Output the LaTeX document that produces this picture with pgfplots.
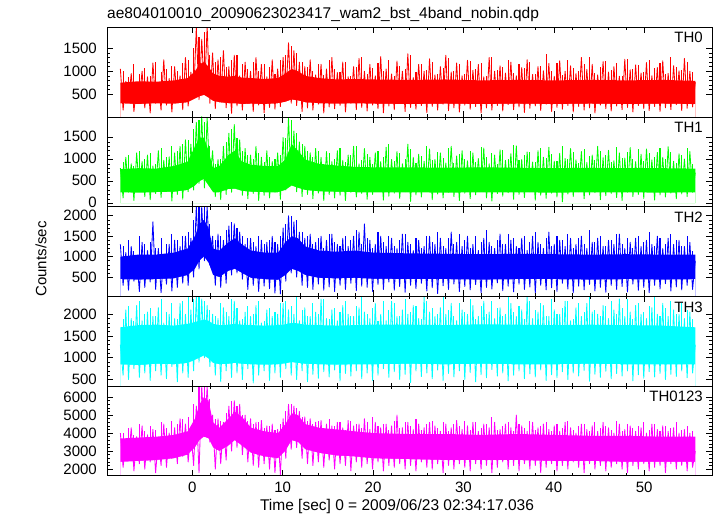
\documentclass[border=0pt]{standalone}
\usepackage{fontspec}
\setmainfont{Liberation Sans}
\usepackage{pgfplots}
\pgfplotsset{compat=1.18}
\usepackage{pgfplotstable}

% dense core of each light curve (t, low and high edge of the solid band)
\pgfplotstableread{
t lo0 hi0 lo1 hi1 lo2 hi2 lo3 hi3 lo4 hi4
-7.95 300 750 250 780 450 1000 850 1700 2400 3700
-6 280 780 240 800 440 1050 830 1750 2450 3750
-4 300 770 250 790 450 1050 860 1760 2500 3800
-2 290 800 260 850 470 1100 850 1740 2600 3900
-0.5 320 850 300 950 550 1200 880 1780 2800 4100
0.3 400 1000 400 1300 700 1500 950 1820 3200 4800
0.8 450 1150 500 1500 900 1800 1000 1850 3600 5600
1.3 480 1200 550 1500 1000 1900 1050 1880 3800 6000
1.8 420 1100 400 1200 850 1700 980 1850 3700 5800
2.3 350 950 250 800 550 1200 880 1780 3200 4600
3 320 900 250 850 500 1150 850 1750 3000 4300
4 300 880 320 1100 650 1350 860 1760 3300 4800
4.7 300 900 330 1200 700 1450 880 1780 3600 5200
5.5 280 860 280 950 600 1300 860 1760 3300 4900
6.5 290 850 260 880 480 1150 850 1750 2900 4300
8 280 830 250 850 450 1100 840 1740 2700 4100
9.5 300 850 250 850 430 1100 850 1750 2600 4000
10.3 330 950 300 1000 550 1350 870 1770 3000 4500
11 380 1050 400 1350 700 1500 900 1800 3600 5100
11.7 360 1000 350 1200 650 1450 880 1790 3500 5000
12.5 320 900 300 1000 550 1250 860 1760 3100 4500
14 300 850 270 900 480 1150 850 1750 2900 4300
16 290 820 260 860 470 1120 840 1740 2750 4200
18 300 830 250 830 480 1150 850 1750 2700 4100
20 290 820 250 820 460 1100 850 1760 2600 4000
24 280 810 250 820 450 1080 860 1760 2550 3950
28 290 820 240 810 450 1070 850 1750 2500 3950
32 280 800 250 820 440 1060 860 1770 2500 3900
36 290 810 250 810 450 1070 850 1760 2500 3950
40 280 800 240 800 450 1060 850 1750 2450 3900
44 290 810 250 810 440 1050 860 1760 2450 3850
48 280 800 250 800 450 1060 850 1750 2400 3850
52 290 810 240 800 440 1050 850 1740 2400 3800
55.65 280 790 250 790 450 1050 850 1700 2400 3800
}\bands

% TH0 (red), samples every 0.3 s from t=-7.95 s
\pgfplotstableread[row sep=\\, header=false]{
1050\\150\\780\\320\\950\\120\\700\\380\\1000\\200\\
880\\90\\1180\\300\\760\\150\\1250\\260\\840\\110\\
1100\\330\\900\\160\\1300\\240\\980\\420\\1950\\380\\
1700\\520\\1980\\300\\1400\\180\\1250\\350\\1450\\200\\
1100\\80\\1350\\240\\900\\150\\1200\\300\\1000\\120\\
1300\\260\\1150\\90\\880\\210\\1250\\170\\1050\\230\\
1300\\380\\1620\\300\\1450\\250\\1200\\120\\1100\\200\\
1250\\150\\920\\280\\1150\\90\\1050\\220\\1300\\180\\
970\\250\\1200\\110\\880\\300\\1100\\160\\1280\\210\\
1000\\130\\1150\\260\\900\\180\\1320\\90\\1050\\240\\
940\\160\\1220\\300\\1000\\120\\1380\\210\\860\\170\\
1150\\250\\1000\\100\\1270\\230\\920\\150\\1100\\280\\
1350\\140\\980\\200\\1180\\110\\900\\260\\1240\\170\\
1020\\230\\1150\\90\\880\\200\\1300\\150\\1000\\250\\
1120\\130\\960\\270\\1200\\160\\900\\220\\1080\\100\\
1250\\190\\930\\240\\1100\\140\\1010\\280\\1170\\120\\
890\\210\\1230\\170\\1000\\250\\1120\\110\\950\\230\\
1300\\150\\1040\\200\\1150\\90\\920\\260\\1210\\180\\
980\\130\\1100\\240\\890\\160\\1260\\210\\1030\\110\\
1140\\250\\960\\180\\1190\\140\\900\\230\\1080\\120\\
1230\\200\\950\\160\\1120\\270\\1010\\140\\1280\\190\\
1000\\220\\760\\
}\thzero
% TH0 extra peaks, every 0.6 s from t=-7.65 s
\pgfplotstableread[row sep=\\, header=false]{
1000\\870\\1150\\950\\1080\\900\\1200\\980\\1050\\1120\\
1000\\1180\\1250\\1500\\1750\\1850\\1350\\1200\\1300\\1100\\
1250\\1350\\1150\\1050\\1200\\1000\\1150\\1100\\950\\1250\\
1350\\1550\\1400\\1200\\1100\\
1000\\1150\\920\\1250\\1050\\980\\1200\\900\\1100\\1300\\
950\\1080\\1180\\1000\\1250\\900\\1120\\1050\\1350\\980\\
1150\\1020\\1200\\930\\1080\\1280\\1000\\1150\\950\\1220\\
1050\\1180\\900\\1300\\1020\\1100\\1250\\970\\1150\\1060\\
1200\\940\\1120\\1380\\1000\\1180\\920\\1250\\1080\\1000\\
1150\\1300\\960\\1100\\1220\\1020\\1180\\900\\1270\\1050\\
1130\\990\\1240\\1060\\1180\\950\\1300\\1100\\1020\\1200\\980\\
}\pkzero

% TH1 (green)
\pgfplotstableread[row sep=\\, header=false]{
800\\120\\1050\\250\\900\\60\\1150\\300\\950\\150\\
1100\\80\\850\\220\\1200\\130\\980\\270\\1060\\50\\
1150\\200\\1300\\90\\1450\\260\\1350\\300\\1850\\450\\
1980\\350\\1960\\500\\1200\\150\\1000\\80\\1300\\200\\
1600\\250\\1800\\330\\1450\\180\\1250\\100\\1100\\220\\
1300\\60\\1050\\180\\1200\\120\\950\\250\\1150\\90\\
1500\\300\\1950\\420\\1650\\260\\1400\\150\\1300\\200\\
1150\\100\\1250\\230\\1050\\60\\1180\\200\\950\\120\\
1200\\180\\980\\60\\1100\\250\\1300\\140\\900\\220\\
1250\\90\\1050\\200\\1150\\300\\950\\70\\1280\\160\\
1000\\230\\1180\\110\\900\\260\\1350\\40\\1050\\190\\
1120\\140\\960\\280\\1240\\80\\1000\\210\\1150\\120\\
920\\250\\1300\\150\\1080\\60\\1200\\230\\970\\100\\
1150\\190\\1020\\280\\1260\\120\\900\\50\\1100\\220\\
1220\\160\\980\\240\\1130\\90\\1310\\200\\1000\\130\\
1170\\260\\940\\70\\1200\\180\\1050\\110\\1280\\230\\
960\\140\\1140\\30\\1020\\210\\1250\\150\\990\\260\\
1180\\100\\930\\190\\1100\\240\\1300\\80\\1040\\170\\
1210\\220\\970\\130\\1150\\60\\1030\\250\\1270\\150\\
950\\200\\1120\\110\\1240\\280\\990\\70\\1160\\190\\
1050\\140\\1290\\230\\960\\100\\1130\\210\\1010\\150\\
1180\\250\\700\\
}\thone
\pgfplotstableread[row sep=\\, header=false]{
950\\1100\\850\\1200\\1000\\1150\\900\\1250\\1050\\1300\\
1200\\1350\\1450\\1700\\1900\\1850\\1300\\900\\1000\\1400\\
1700\\1500\\1200\\1100\\1000\\1150\\950\\1050\\1000\\1100\\
1500\\1900\\1600\\1350\\1200\\
1050\\1200\\900\\1150\\1000\\1250\\950\\1100\\1300\\980\\
1120\\900\\1200\\1050\\1350\\970\\1150\\1000\\1230\\920\\
1080\\1300\\990\\1170\\1040\\1260\\930\\1120\\1000\\1200\\
950\\1280\\1060\\1150\\900\\1220\\1010\\1330\\980\\1100\\
1180\\940\\1250\\1040\\1130\\970\\1300\\1020\\1160\\910\\
1240\\1070\\990\\1200\\1110\\950\\1290\\1030\\1170\\1000\\
1230\\960\\1140\\1060\\1270\\1000\\1180\\930\\1100\\1250\\900\\
}\pkone

% TH2 (blue)
\pgfplotstableread[row sep=\\, header=false]{
1300\\300\\1100\\180\\1250\\400\\1000\\150\\1350\\250\\
1150\\380\\1850\\200\\1200\\120\\1050\\330\\1300\\160\\
1400\\250\\1250\\350\\1500\\300\\1450\\500\\2220\\700\\
2220\\900\\2220\\800\\1500\\300\\1550\\250\\1400\\350\\
1750\\550\\1800\\600\\1600\\450\\1300\\200\\1450\\300\\
1250\\150\\1400\\280\\1350\\220\\1500\\110\\1300\\90\\
1700\\400\\2000\\600\\1850\\500\\1600\\300\\1450\\250\\
1550\\200\\1350\\330\\1500\\180\\1400\\260\\1550\\150\\
1300\\300\\1450\\200\\1250\\350\\1500\\170\\1600\\280\\
1800\\250\\1400\\150\\1300\\320\\1500\\200\\1250\\380\\
1450\\180\\1200\\270\\1550\\130\\1350\\300\\1150\\220\\
1400\\350\\1250\\160\\1500\\240\\1300\\100\\1450\\290\\
1200\\200\\1600\\330\\1350\\150\\1250\\270\\1500\\190\\
1300\\320\\1150\\120\\1450\\250\\1350\\210\\1200\\360\\
1550\\170\\1300\\280\\1400\\140\\1250\\330\\1450\\200\\
1150\\260\\1500\\110\\1350\\300\\1200\\190\\1600\\240\\
1300\\150\\1400\\350\\1250\\210\\1450\\120\\1300\\280\\
1500\\190\\1200\\320\\1350\\160\\1450\\250\\1250\\130\\
1400\\300\\1300\\200\\1550\\270\\1200\\140\\1350\\330\\
1450\\180\\1250\\250\\1400\\120\\1300\\300\\1500\\210\\
1200\\340\\1450\\160\\1300\\260\\1400\\190\\1250\\300\\
1350\\200\\900\\
}\thtwo
\pgfplotstableread[row sep=\\, header=false]{
1250\\1400\\1150\\1500\\1300\\1350\\1200\\1450\\1300\\1550\\
1400\\1500\\1600\\1900\\2220\\2220\\1800\\1400\\1500\\1650\\
1850\\1700\\1500\\1450\\1350\\1500\\1300\\1400\\1350\\1500\\
1800\\2000\\1900\\1600\\1500\\
1300\\1450\\1200\\1550\\1350\\1250\\1500\\1400\\1650\\1300\\
1450\\1200\\1600\\1350\\1500\\1250\\1400\\1550\\1300\\1450\\
1200\\1500\\1350\\1600\\1250\\1450\\1300\\1550\\1400\\1200\\
1500\\1350\\1650\\1250\\1400\\1300\\1550\\1450\\1200\\1500\\
1350\\1600\\1300\\1450\\1250\\1500\\1400\\1550\\1200\\1450\\
1300\\1650\\1350\\1500\\1250\\1400\\1550\\1300\\1450\\1200\\
1500\\1350\\1600\\1250\\1450\\1300\\1550\\1400\\1250\\1500\\1150\\
}\pktwo

% TH3 (cyan)
\pgfplotstableread[row sep=\\, header=false]{
1300\\600\\2100\\500\\1900\\750\\2200\\550\\1850\\650\\
2050\\480\\1950\\700\\2150\\600\\1800\\520\\2000\\800\\
1900\\450\\2250\\650\\2000\\550\\2100\\700\\2400\\900\\
2350\\1000\\2200\\800\\2000\\600\\1900\\450\\2150\\700\\
1950\\550\\2300\\650\\1850\\500\\2050\\750\\1950\\420\\
2200\\600\\1800\\700\\2100\\480\\1950\\650\\2000\\550\\
2250\\750\\2100\\600\\2000\\500\\1850\\700\\2150\\450\\
1950\\620\\2050\\530\\2350\\680\\1900\\560\\2100\\720\\
1850\\470\\2200\\640\\2000\\580\\1950\\700\\2150\\520\\
2050\\650\\1900\\480\\2250\\600\\2000\\750\\1850\\550\\
2300\\680\\1950\\500\\2100\\620\\2000\\430\\2200\\700\\
1900\\570\\2400\\650\\2050\\520\\1950\\720\\2150\\480\\
2000\\640\\2250\\560\\1850\\700\\2100\\500\\2000\\660\\
2200\\450\\1950\\610\\2300\\540\\2050\\730\\1900\\580\\
2150\\650\\2000\\470\\2250\\600\\1950\\700\\2100\\520\\
2400\\630\\1900\\560\\2050\\720\\2200\\480\\1950\\610\\
2100\\540\\2000\\680\\2300\\500\\1850\\650\\2150\\580\\
1950\\710\\2250\\460\\2050\\620\\2000\\550\\2200\\690\\
1900\\520\\2100\\640\\2350\\580\\1950\\700\\2050\\470\\
2200\\610\\2000\\530\\1900\\680\\2150\\560\\2000\\640\\
2250\\500\\1950\\620\\2100\\570\\2000\\700\\1900\\540\\
2050\\650\\1300\\
}\ththree
\pgfplotstableread[row sep=\\, header=false]{
1900\\2200\\1850\\2300\\2000\\2150\\1950\\2350\\2050\\2250\\
1900\\2300\\2400\\2350\\2400\\2300\\2100\\1950\\2250\\2050\\
2350\\2150\\1900\\2200\\2000\\2300\\1850\\2150\\2050\\2250\\
2300\\2200\\2400\\2100\\1950\\2250\\2000\\2350\\1900\\2150\\
2050\\2300\\1950\\2200\\2400\\2000\\2150\\1850\\2300\\2100\\
2250\\1950\\2350\\2050\\2200\\1900\\2300\\2150\\2000\\2400\\
2100\\1950\\2250\\2050\\2350\\1900\\2200\\2000\\2300\\2150\\
1950\\2400\\2050\\2200\\1900\\2300\\2100\\2250\\1950\\2350\\
2000\\2150\\2300\\1900\\2250\\2050\\2400\\2100\\1950\\2200\\
2300\\2000\\2150\\2350\\1900\\2250\\2050\\2200\\2400\\1950\\
2150\\2300\\2000\\2250\\2100\\1900\\
}\pkthree

% TH0123 (magenta)
\pgfplotstableread[row sep=\\, header=false]{
4000\\2100\\3600\\2500\\4300\\1900\\3800\\2300\\4400\\2000\\
3900\\2400\\4200\\1800\\3700\\2200\\4500\\2100\\4000\\2600\\
4300\\2300\\4800\\2700\\4500\\2400\\4200\\2200\\5500\\1800\\
6600\\3800\\6600\\3500\\5000\\2000\\4800\\2300\\4600\\2500\\
5500\\3000\\5800\\3200\\5600\\2800\\5000\\2400\\4800\\2200\\
4600\\2100\\4700\\2300\\4400\\2000\\4500\\1800\\4200\\1700\\
4800\\2600\\5600\\3100\\5500\\3200\\5200\\2600\\4900\\2300\\
4800\\2200\\4600\\2400\\4700\\2100\\4500\\2500\\4400\\2000\\
4600\\2300\\4300\\2200\\4700\\1900\\4400\\2400\\4500\\2100\\
4800\\2300\\4200\\2000\\4600\\2400\\4300\\1900\\4500\\2200\\
4400\\2100\\5000\\2300\\4300\\2000\\4600\\2200\\4200\\1900\\
4500\\2400\\4300\\2100\\4600\\2000\\4400\\2300\\4100\\1800\\
4500\\2200\\4300\\2000\\4700\\2300\\4200\\2100\\4400\\1900\\
4600\\2300\\4100\\2000\\4500\\2200\\4300\\1800\\4600\\2100\\
4200\\2400\\4500\\2000\\4300\\2200\\5000\\1900\\4400\\2300\\
4100\\2000\\4600\\2200\\4300\\1800\\4500\\2100\\4200\\2300\\
4400\\1900\\4100\\2200\\4600\\2000\\4300\\2400\\4000\\2100\\
4500\\1800\\4200\\2300\\4400\\2000\\4100\\2200\\4600\\1900\\
4300\\2100\\4000\\2300\\4500\\2000\\4200\\1800\\4400\\2200\\
4100\\2000\\4300\\2300\\4000\\1900\\4500\\2100\\4200\\2200\\
4400\\1800\\4100\\2300\\4300\\2000\\4000\\2200\\4200\\1900\\
4000\\2100\\3000\\
}\thall
\pgfplotstableread[row sep=\\, header=false]{
4000\\4300\\3900\\4500\\4100\\4400\\4200\\4600\\4300\\4700\\
4500\\4800\\4900\\5600\\6600\\6600\\5900\\4800\\4700\\5100\\
5800\\5500\\5000\\4700\\4500\\4600\\4300\\4400\\4200\\4500\\
5200\\5600\\5400\\4900\\4700\\
4500\\4700\\4300\\4800\\4400\\4600\\4200\\4700\\4500\\4300\\
4600\\4900\\4400\\4500\\4200\\4700\\4300\\4600\\4400\\4800\\
4200\\4500\\4700\\4300\\4600\\4100\\4500\\4400\\4700\\4200\\
4600\\4300\\4500\\4900\\4200\\4400\\4600\\4100\\4500\\4300\\
4700\\4200\\4400\\4600\\4100\\4500\\4300\\4700\\4200\\4400\\
4500\\4100\\4600\\4300\\4400\\4200\\4700\\4100\\4500\\4300\\
4400\\4600\\4200\\4500\\4100\\4400\\4300\\4600\\4200\\4400\\4100\\
}\pkall

\definecolor{cR}{rgb}{1,0,0}
\definecolor{cG}{rgb}{0,1,0}
\definecolor{cB}{rgb}{0,0,1}
\definecolor{cC}{rgb}{0,1,1}
\definecolor{cM}{rgb}{1,0,1}

\pgfplotsset{
  panel/.style={
    width=605pt, height=89.7pt, scale only axis,
    xmin=-9.43, xmax=57.5,
    xtick={0,10,20,30,40,50}, minor x tick num=4, minor y tick num=4,
    xticklabels={},
    tick align=inside, axis on top,
    major tick length=6pt, minor tick length=3pt,
    every tick/.style={black, line width=0.6pt},
    axis line style={line width=0.8pt},
    tick label style={font=\fontsize{15}{18}\selectfont},
    yticklabel style={inner sep=0.5pt, xshift=-9.5pt},
    /pgf/number format/assume math mode=true,
    /pgf/number format/set thousands separator={},
    scaled y ticks=false,
    anchor=north west,
  },
  ser/.style={line width=0.85pt, line join=round, no markers, color=#1},
  pk/.style={ycomb, line width=1.1pt, no markers, color=#1},
}
\tikzset{
  lab/.style={anchor=north east, inner sep=0pt, xshift=-9pt, yshift=-5pt, font=\fontsize{15}{18}\selectfont},
}

\begin{document}
\begin{tikzpicture}
\useasboundingbox (0,0) rectangle (717pt,516pt);

\begin{axis}[panel, at={(107pt,488.7pt)}, ymin=0, ymax=1960, ytick={500,1000,1500}]
\addplot[fill=cR, draw=none] table[x=t, y=hi0] {\bands} \closedcycle;
\addplot[pk=cR] table[x expr=\coordindex*0.6-7.65, y index=0] {\pkzero};
\addplot[fill=white, draw=none] table[x=t, y=lo0] {\bands} \closedcycle;
\addplot[ser=cR] table[x expr=\coordindex*0.3-7.95, y index=0] {\thzero};
\node[lab] at (rel axis cs:1,1) {TH0};
\end{axis}

\begin{axis}[panel, at={(107pt,399pt)}, ymin=-80, ymax=1970, ytick={0,500,1000,1500},
  yticklabel style={yshift=1pt}]
\addplot[fill=cG, draw=none] table[x=t, y=hi1] {\bands} \closedcycle;
\addplot[pk=cG] table[x expr=\coordindex*0.6-7.65, y index=0] {\pkone};
\addplot[fill=white, draw=none] table[x=t, y=lo1] {\bands} \closedcycle;
\addplot[ser=cG] table[x expr=\coordindex*0.3-7.95, y index=0] {\thone};
\node[lab] at (rel axis cs:1,1) {TH1};
\end{axis}

\begin{axis}[panel, at={(107pt,309.3pt)}, ymin=30, ymax=2220, ytick={500,1000,1500,2000}]
\addplot[fill=cB, draw=none] table[x=t, y=hi2] {\bands} \closedcycle;
\addplot[pk=cB] table[x expr=\coordindex*0.6-7.65, y index=0] {\pktwo};
\addplot[fill=white, draw=none] table[x=t, y=lo2] {\bands} \closedcycle;
\addplot[ser=cB] table[x expr=\coordindex*0.3-7.95, y index=0] {\thtwo};
\node[lab] at (rel axis cs:1,1) {TH2};
\end{axis}

\begin{axis}[panel, at={(107pt,219.6pt)}, ymin=350, ymax=2410, ytick={500,1000,1500,2000}]
\addplot[fill=cC, draw=none] table[x=t, y=hi3] {\bands} \closedcycle;
\addplot[pk=cC] table[x expr=\coordindex*0.6-7.65, y index=0] {\pkthree};
\addplot[fill=white, draw=none] table[x=t, y=lo3] {\bands} \closedcycle;
\addplot[ser=cC] table[x expr=\coordindex*0.3-7.95, y index=0] {\ththree};
\node[lab] at (rel axis cs:1,1) {TH3};
\end{axis}

\begin{axis}[panel, at={(107pt,129.9pt)}, ymin=1630, ymax=6610, ytick={2000,3000,4000,5000,6000},
  xticklabels={0,10,20,30,40,50}, xticklabel style={yshift=-3pt}]
\addplot[fill=cM, draw=none] table[x=t, y=hi4] {\bands} \closedcycle;
\addplot[pk=cM] table[x expr=\coordindex*0.6-7.65, y index=0] {\pkall};
\addplot[fill=white, draw=none] table[x=t, y=lo4] {\bands} \closedcycle;
\addplot[ser=cM] table[x expr=\coordindex*0.3-7.95, y index=0] {\thall};
\node[lab] at (rel axis cs:1,1) {TH0123};
\end{axis}

\node[anchor=base west, inner sep=0pt, font=\fontsize{15.5}{18}\selectfont] at (107pt,497pt) {ae804010010\_20090623023417\_wam2\_bst\_4band\_nobin.qdp};
\node[anchor=base, inner sep=0pt, font=\fontsize{15.5}{18}\selectfont] at (397pt,5pt) {Time [sec] 0 = 2009/06/23 02:34:17.036};
\node[rotate=90, inner sep=0pt, font=\fontsize{15}{18}\selectfont] at (41pt,257pt) {Counts/sec};
\end{tikzpicture}
\end{document}
